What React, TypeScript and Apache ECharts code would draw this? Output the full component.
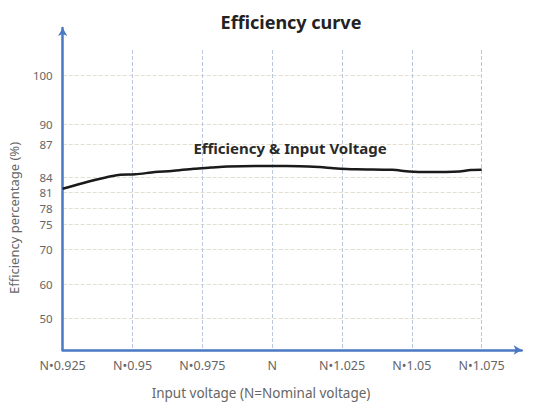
import React, { useEffect, useRef } from "react";
import * as echarts from "echarts";

// X axis: input voltage in thousandths of nominal
const xTickValues = [925, 950, 975, 1000, 1025, 1050, 1075];
const xTickLabels = ["N•0.925", "N•0.95", "N•0.975", "N", "N•1.025", "N•1.05", "N•1.075"];

// Y axis tick labels (efficiency %) – the original axis spacing is irregular
const yTickLabels = [50, 60, 70, 75, 78, 81, 84, 87, 90, 100];

// Efficiency curve readings: [voltage (thousandths of N), efficiency %]
const effVoltage = [925, 934, 940, 945, 951, 958, 964, 972, 978, 984, 994, 1005, 1017, 1022, 1030, 1043, 1049, 1056, 1067, 1071, 1075];
const effValue = [81.8, 83.2, 84.0, 84.25, 84.3, 84.5, 84.6, 84.8, 84.9, 85.0, 85.05, 85.05, 84.95, 84.85, 84.75, 84.7, 84.55, 84.5, 84.55, 84.68, 84.7];

// Layout: where each y tick sits on the (irregular) axis, in axis units
const yTickSlots = [31.7, 66, 100.7, 126, 141.3, 157.3, 172.3, 206, 226, 275];

function toSlot(v: number): number {
  for (let i = 0; i < yTickLabels.length - 1; i++) {
    const a = yTickLabels[i], b = yTickLabels[i + 1];
    if (v >= a && v <= b) {
      const t = (v - a) / (b - a);
      return yTickSlots[i] + t * (yTickSlots[i + 1] - yTickSlots[i]);
    }
  }
  return v < yTickLabels[0] ? yTickSlots[0] : yTickSlots[yTickSlots.length - 1];
}

function slotLabel(s: number): string {
  let best = 0;
  for (let i = 1; i < yTickSlots.length; i++) {
    if (Math.abs(yTickSlots[i] - s) < Math.abs(yTickSlots[best] - s)) best = i;
  }
  return String(yTickLabels[best]);
}

export default function App() {
  const ref = useRef<HTMLDivElement>(null);
  useEffect(() => {
    if (!ref.current) return;
    const chart = echarts.init(ref.current, null, { renderer: "svg" });
    const axisBlue = "#4a78c2";
    const labelFont = "'Noto Sans', sans-serif";
    chart.setOption({
      animation: false,
      backgroundColor: "#ffffff",
      title: {
        text: "Efficiency curve",
        left: 286,
        top: 8,
        textAlign: "center",
        textStyle: { fontFamily: labelFont, fontSize: 18, fontWeight: "bold", color: "#222" },
      },
      graphic: [
        {
          type: "text",
          x: 290,
          y: 148,
          style: {
            text: "Efficiency & Input Voltage",
            fontFamily: labelFont,
            fontSize: 15,
            fontWeight: "bold",
            fill: "#2a2a2a",
            align: "center",
            verticalAlign: "middle",
          },
          z: 10,
        },
        {
          type: "text",
          x: 14,
          y: 218,
          rotation: Math.PI / 2,
          style: {
            text: "Efficiency percentage (%)",
            fontFamily: labelFont,
            fontSize: 13,
            fill: "#666",
            align: "center",
            verticalAlign: "middle",
          },
        },
        {
          type: "text",
          x: 261,
          y: 393,
          style: {
            text: "Input voltage (N=Nominal voltage)",
            fontFamily: labelFont,
            fontSize: 13.5,
            fill: "#666",
            align: "center",
            verticalAlign: "middle",
          },
        },
      ],
      grid: [
        { left: 62.7, right: 59.3, top: 50, bottom: 53 },
        { left: 62.7, right: 19.3, top: 28, bottom: 53 },
      ],
      xAxis: [
        {
          type: "value",
          gridIndex: 0,
          min: 925,
          max: 1075,
          interval: 25,
          axisLine: { show: false },
          axisTick: { show: false },
          axisLabel: {
            margin: 9,
            color: "#666",
            fontFamily: labelFont,
            fontSize: 12.5,
            formatter: (v: number) => {
              const i = xTickValues.indexOf(Math.round(v));
              return i >= 0 ? xTickLabels[i] : "";
            },
          },
          splitLine: { show: true, lineStyle: { type: "dashed", color: "#bcc8de", width: 1 } },
        },
        {
          type: "value",
          gridIndex: 1,
          min: 0,
          max: 1,
          axisLine: { show: true, onZero: false, symbol: ["none", "arrow"], symbolSize: [7, 8], lineStyle: { color: axisBlue, width: 2.5 } },
          axisTick: { show: false },
          axisLabel: { show: false },
          splitLine: { show: false },
        },
      ],
      yAxis: [
        {
          type: "value",
          gridIndex: 0,
          min: 0,
          max: 300,
          axisLine: { show: false },
          axisTick: { show: false, customValues: yTickSlots },
          axisLabel: {
            margin: 10,
            color: "#666",
            fontFamily: labelFont,
            fontSize: 11.5,
            lineHeight: 11.5,
            customValues: yTickSlots,
            formatter: (v: number) => slotLabel(v),
          },
          splitLine: { show: true, lineStyle: { type: "dashed", color: "#e2dfcc", width: 1 } },
        },
        {
          type: "value",
          gridIndex: 1,
          min: 0,
          max: 1,
          axisLine: { show: true, onZero: false, symbol: ["none", "arrow"], symbolSize: [7, 8], lineStyle: { color: axisBlue, width: 2.5 } },
          axisTick: { show: false },
          axisLabel: { show: false },
          splitLine: { show: false },
        },
      ],
      series: [
        {
          type: "line",
          xAxisIndex: 0,
          yAxisIndex: 0,
          data: effVoltage.map((x, i) => [x, toSlot(effValue[i])]),
          showSymbol: false,
          smooth: 0.3,
          lineStyle: { color: "#1a1a1a", width: 2.5 },
          z: 5,
        },
      ],
    });
    return () => chart.dispose();
  }, []);
  return <div ref={ref} style={{ width: 541, height: 403, position: "absolute", left: 0, top: 0 }} />;
}
